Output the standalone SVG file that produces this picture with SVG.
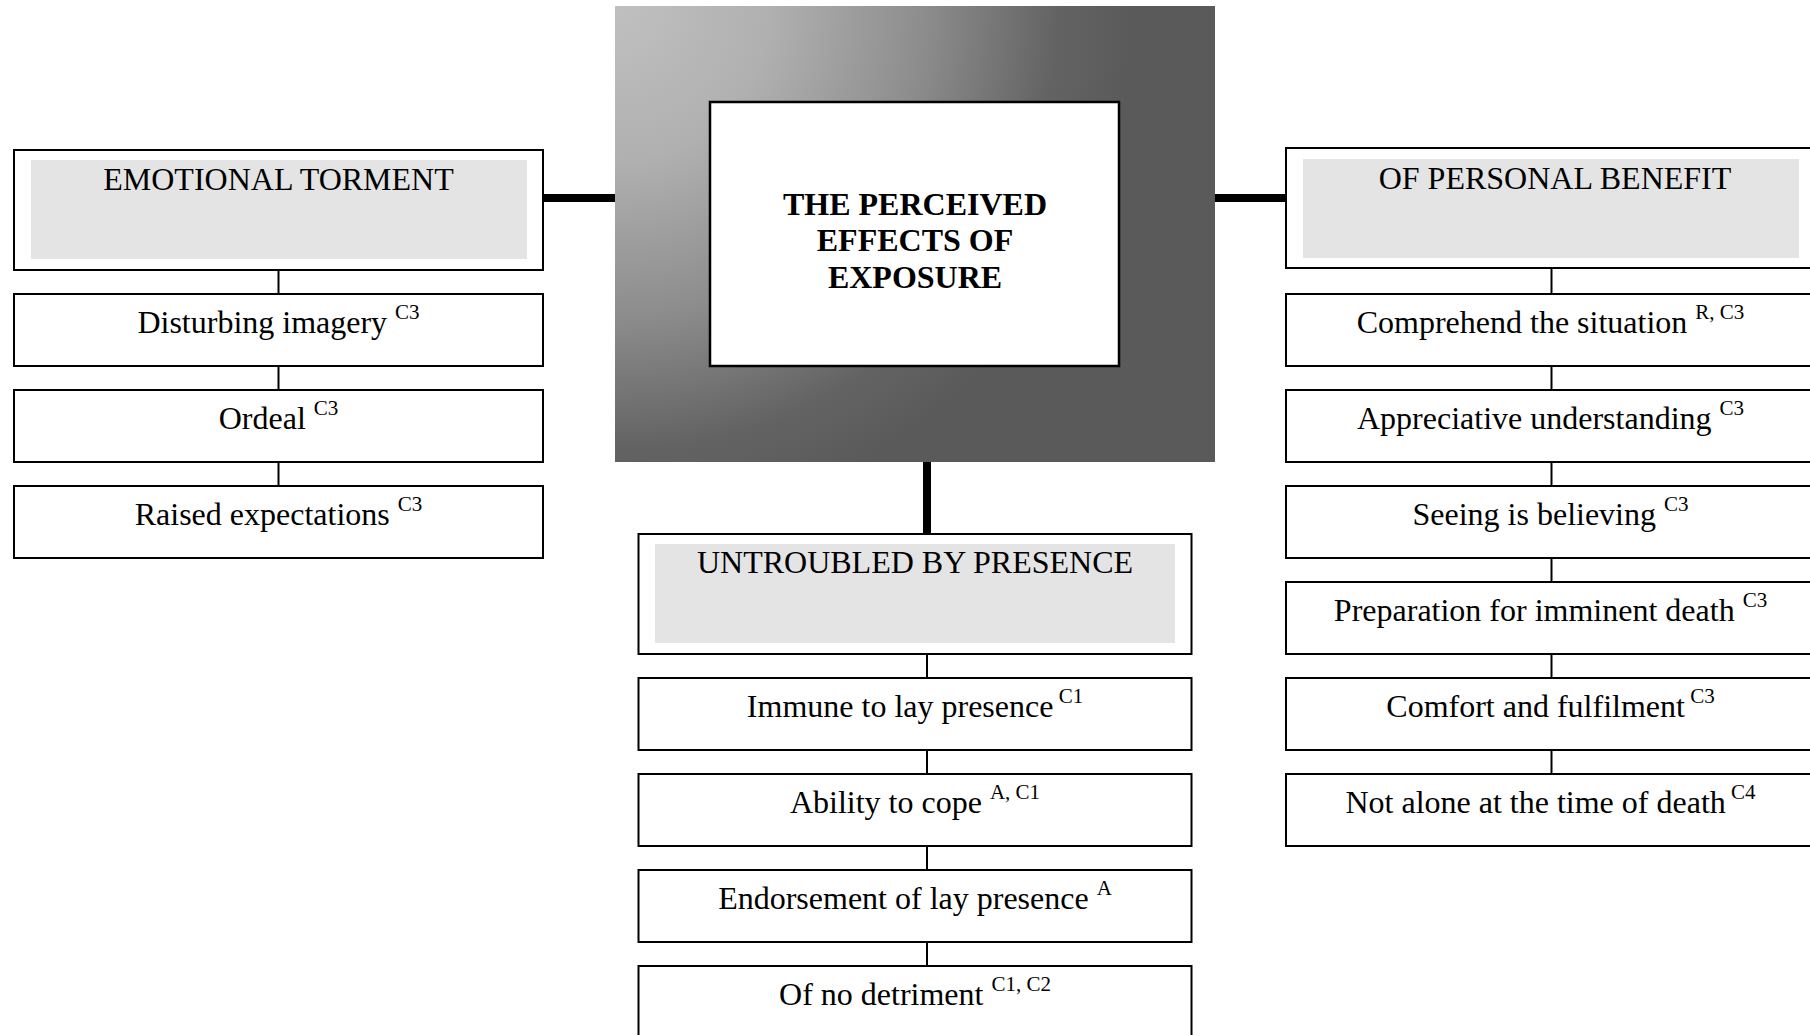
<svg xmlns="http://www.w3.org/2000/svg" width="1810" height="1035" viewBox="0 0 1810 1035">
  <style>
    .box { fill: #ffffff; stroke: #000000; stroke-width: 2; }
    .band { fill: #e4e4e4; stroke: none; }
    .txt { font-family: "Liberation Serif", "Times New Roman", serif; font-size: 32px; fill: #000000; text-anchor: middle; }
    .title { font-weight: bold; }
    .sup { font-size: 21px; }
    .thick { stroke: #000000; stroke-width: 8; fill: none; }
    .thin { stroke: #000000; stroke-width: 2; fill: none; }
  </style>
  <defs>
    <radialGradient id="cornerShade" gradientUnits="userSpaceOnUse" cx="615" cy="6" r="520">
      <stop offset="0" stop-color="#c0c0c0"/>
      <stop offset="0.3" stop-color="#b0b0b0"/>
      <stop offset="0.6" stop-color="#8c8c8c"/>
      <stop offset="0.85" stop-color="#636363"/>
      <stop offset="1" stop-color="#5a5a5a"/>
    </radialGradient>
  </defs>

  <rect width="1810" height="1035" fill="#ffffff"/>

  <!-- connectors -->
  <g id="connectors">
    <line class="thick" x1="543" y1="198" x2="615" y2="198"/>
    <line class="thick" x1="1215" y1="198" x2="1286" y2="198"/>
    <line class="thick" x1="927" y1="462" x2="927" y2="534"/>
    <line class="thin" x1="278.5" y1="270" x2="278.5" y2="294"/>
    <line class="thin" x1="278.5" y1="366" x2="278.5" y2="390"/>
    <line class="thin" x1="278.5" y1="462" x2="278.5" y2="486"/>
    <line class="thin" x1="927" y1="654" x2="927" y2="678"/>
    <line class="thin" x1="927" y1="750" x2="927" y2="774"/>
    <line class="thin" x1="927" y1="846" x2="927" y2="870"/>
    <line class="thin" x1="927" y1="942" x2="927" y2="966"/>
    <line class="thin" x1="1551.5" y1="268" x2="1551.5" y2="294"/>
    <line class="thin" x1="1551.5" y1="366" x2="1551.5" y2="390"/>
    <line class="thin" x1="1551.5" y1="462" x2="1551.5" y2="486"/>
    <line class="thin" x1="1551.5" y1="558" x2="1551.5" y2="582"/>
    <line class="thin" x1="1551.5" y1="654" x2="1551.5" y2="678"/>
    <line class="thin" x1="1551.5" y1="750" x2="1551.5" y2="774"/>
  </g>

  <!-- central topic -->
  <g id="center">
    <rect x="615" y="6" width="600" height="456" fill="url(#cornerShade)"/>
    <rect x="710" y="102" width="409" height="264" fill="#ffffff" stroke="#000000" stroke-width="2.5"/>
    <text class="txt title" x="915" y="215">THE PERCEIVED</text>
    <text class="txt title" x="915" y="251">EFFECTS OF</text>
    <text class="txt title" x="915" y="288">EXPOSURE</text>
  </g>

  <!-- left branch -->
  <g id="emotional-torment">
    <rect class="box" x="14" y="150" width="529" height="120"/>
    <rect class="band" x="31" y="160" width="496" height="99"/>
    <text class="txt" x="278.5" y="190">EMOTIONAL TORMENT</text>
  </g>
  <g id="disturbing-imagery">
    <rect class="box" x="14" y="294" width="529" height="72"/>
    <text class="txt" x="278.5" y="333">Disturbing imagery <tspan class="sup" dy="-14">C3</tspan></text>
  </g>
  <g id="ordeal">
    <rect class="box" x="14" y="390" width="529" height="72"/>
    <text class="txt" x="278.5" y="429">Ordeal <tspan class="sup" dy="-14">C3</tspan></text>
  </g>
  <g id="raised-expectations">
    <rect class="box" x="14" y="486" width="529" height="72"/>
    <text class="txt" x="278.5" y="525">Raised expectations <tspan class="sup" dy="-14">C3</tspan></text>
  </g>

  <!-- middle branch -->
  <g id="untroubled">
    <rect class="box" x="638.5" y="534" width="553" height="120"/>
    <rect class="band" x="655" y="544" width="520" height="99"/>
    <text class="txt" x="915" y="573">UNTROUBLED BY PRESENCE</text>
  </g>
  <g id="immune">
    <rect class="box" x="638.5" y="678" width="553" height="72"/>
    <text class="txt" x="915" y="717">Immune to lay presence<tspan class="sup" dy="-14"> C1</tspan></text>
  </g>
  <g id="ability">
    <rect class="box" x="638.5" y="774" width="553" height="72"/>
    <text class="txt" x="915" y="813">Ability to cope <tspan class="sup" dy="-14">A, C1</tspan></text>
  </g>
  <g id="endorsement">
    <rect class="box" x="638.5" y="870" width="553" height="72"/>
    <text class="txt" x="915" y="909">Endorsement of lay presence <tspan class="sup" dy="-14">A</tspan></text>
  </g>
  <g id="no-detriment">
    <rect class="box" x="638.5" y="966" width="553" height="80"/>
    <text class="txt" x="915" y="1005">Of no detriment <tspan class="sup" dy="-14">C1, C2</tspan></text>
  </g>

  <!-- right branch -->
  <g id="personal-benefit">
    <rect class="box" x="1286" y="148" width="529" height="120"/>
    <rect class="band" x="1303" y="159" width="496" height="99"/>
    <text class="txt" x="1555" y="189">OF PERSONAL BENEFIT</text>
  </g>
  <g id="comprehend">
    <rect class="box" x="1286" y="294" width="529" height="72"/>
    <text class="txt" x="1550.5" y="333">Comprehend the situation <tspan class="sup" dy="-14">R, C3</tspan></text>
  </g>
  <g id="appreciative">
    <rect class="box" x="1286" y="390" width="529" height="72"/>
    <text class="txt" x="1550.5" y="429">Appreciative understanding <tspan class="sup" dy="-14">C3</tspan></text>
  </g>
  <g id="seeing">
    <rect class="box" x="1286" y="486" width="529" height="72"/>
    <text class="txt" x="1550.5" y="525">Seeing is believing <tspan class="sup" dy="-14">C3</tspan></text>
  </g>
  <g id="preparation">
    <rect class="box" x="1286" y="582" width="529" height="72"/>
    <text class="txt" x="1550.5" y="621">Preparation for imminent death <tspan class="sup" dy="-14">C3</tspan></text>
  </g>
  <g id="comfort">
    <rect class="box" x="1286" y="678" width="529" height="72"/>
    <text class="txt" x="1550.5" y="717">Comfort and fulfilment<tspan class="sup" dy="-14"> C3</tspan></text>
  </g>
  <g id="not-alone">
    <rect class="box" x="1286" y="774" width="529" height="72"/>
    <text class="txt" x="1550.5" y="813">Not alone at the time of death<tspan class="sup" dy="-14"> C4</tspan></text>
  </g>
</svg>
